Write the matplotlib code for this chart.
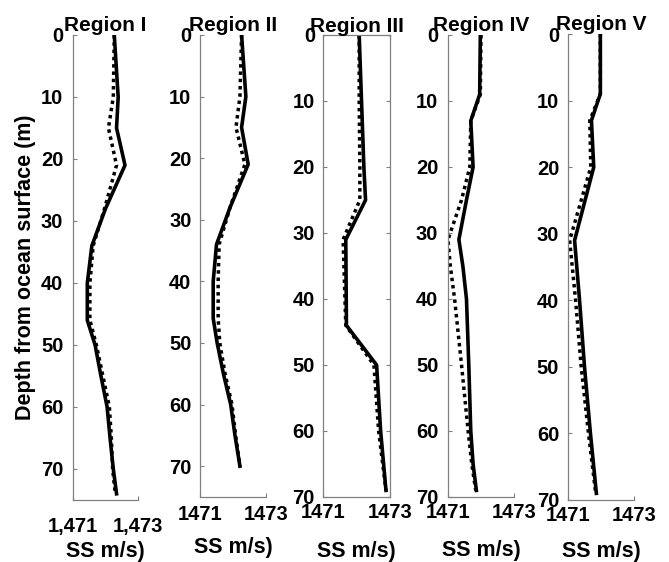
import numpy as np
import matplotlib

matplotlib.use("agg")
import matplotlib.pyplot as plt

plt.rcParams["font.family"] = ["Liberation Sans", "DejaVu Sans"]
plt.rcParams["font.weight"] = "bold"

titles = ["Region I", "Region II", "Region III", "Region IV", "Region V"]

# sound speed profiles, depth (m) vs speed (m/s)
r1_depth = [0, 10, 15, 21, 28, 34, 40, 46, 50, 55, 60, 65, 70, 74]
r1_solid = [1472.27, 1472.39, 1472.34, 1472.60, 1472.00, 1471.58, 1471.44,
            1471.44, 1471.68, 1471.86, 1472.05, 1472.14, 1472.24, 1472.34]
r1_dotted = [1472.27, 1472.24, 1472.09, 1472.34, 1471.97, 1471.62, 1471.52,
             1471.52, 1471.72, 1471.92, 1472.12, 1472.18, 1472.22, 1472.30]

r2_depth = [0, 10, 15, 21, 28, 34, 40, 46, 50, 55, 60, 65, 70]
r2_solid = [1472.26, 1472.39, 1472.26, 1472.46, 1471.91, 1471.50, 1471.40,
            1471.40, 1471.52, 1471.71, 1471.93, 1472.06, 1472.21]
r2_dotted = [1472.26, 1472.21, 1472.09, 1472.36, 1471.91, 1471.58, 1471.55,
             1471.55, 1471.60, 1471.76, 1471.97, 1472.08, 1472.21]

r3_depth = [0, 10, 20, 25, 31, 44, 50, 60, 69]
r3_solid = [1472.08, 1472.15, 1472.22, 1472.27, 1471.68, 1471.70, 1472.60, 1472.72, 1472.88]
r3_dotted = [1472.08, 1472.08, 1472.10, 1472.10, 1471.60, 1471.68, 1472.52, 1472.66, 1472.88]

r4_depth = [0, 9, 13, 20, 25, 31, 35, 40, 50, 55, 60, 65, 69]
r4_solid = [1471.98, 1471.96, 1471.69, 1471.76, 1471.56, 1471.33, 1471.45,
            1471.56, 1471.63, 1471.66, 1471.69, 1471.76, 1471.86]
r4_dotted = [1472.00, 1471.98, 1471.69, 1471.66, 1471.41, 1471.00, 1471.07,
             1471.20, 1471.41, 1471.51, 1471.61, 1471.72, 1471.84]

r5_depth = [0, 9, 13, 20, 31, 40, 50, 60, 69]
r5_solid = [1471.98, 1471.98, 1471.71, 1471.78, 1471.20, 1471.35, 1471.50, 1471.68, 1471.86]
r5_dotted = [1471.98, 1471.98, 1471.66, 1471.69, 1471.05, 1471.23, 1471.40, 1471.62, 1471.84]

depths = [r1_depth, r2_depth, r3_depth, r4_depth, r5_depth]
solids = [r1_solid, r2_solid, r3_solid, r4_solid, r5_solid]
dotteds = [r1_dotted, r2_dotted, r3_dotted, r4_dotted, r5_dotted]

xticks = [1471, 1473]
xtick_labels = [["1,471", "1,473"]] + [["1471", "1473"]] * 4
ymax = [75, 75, 70, 70, 70]

W, H = 669, 562
# axes boxes in pixels: left, right, top, bottom
boxes = [(73, 138, 35, 500), (200, 266, 35, 497), (323, 390, 35, 497),
         (448, 514, 35, 497), (568, 634, 34, 500)]
ypads = [7.0, 6.2, 5.8, 7.0, 6.3]
xpads = [12.5, 5.5, 4.0, 4.0, 4.5]
xlabel_top = [541, 537, 541, 540, 541]

fig = plt.figure(figsize=(W / 100, H / 100), dpi=100)
spine_col = "#808080"

for i in range(5):
    l, r, t, b = boxes[i]
    ax = fig.add_axes([l / W, 1 - b / H, (r - l) / W, (b - t) / H])
    ax.plot(dotteds[i], depths[i], color="black", lw=2.5, linestyle=(0, (1, 1.1)))
    ax.plot(solids[i], depths[i], color="black", lw=2.6, solid_joinstyle="round")
    ax.set_xlim(1471, 1473)
    ax.set_ylim(ymax[i], 0)
    ax.set_yticks(range(0, 71, 10))
    ax.set_xticks(xticks)
    ax.set_xticklabels(xtick_labels[i])
    box_on = i == 2
    for side in ["top", "right"]:
        ax.spines[side].set_visible(box_on)
    for s in ax.spines.values():
        s.set_color(spine_col)
        s.set_linewidth(0.9)
    ax.tick_params(axis="y", direction="in", length=3, color=spine_col,
                   labelsize=14.5, pad=ypads[i], right=box_on)
    ax.tick_params(axis="x", direction="in", length=3, color=spine_col,
                   labelsize=14.5, pad=xpads[i], top=box_on)
    ax.set_title(titles[i], fontsize=15, fontweight="bold", pad=2)
    ax.set_xlabel("SS m/s)", fontsize=15.5, fontweight="bold")
    ax.xaxis.set_label_coords(0.5, -(xlabel_top[i] - b) / (b - t))
    if i == 0:
        ax.set_ylabel("Depth from ocean surface (m)", fontsize=15.5, fontweight="bold")
        ax.yaxis.set_label_coords(-(l - 36) / (r - l), 0.5)

fig.savefig("out.png", dpi=100)
